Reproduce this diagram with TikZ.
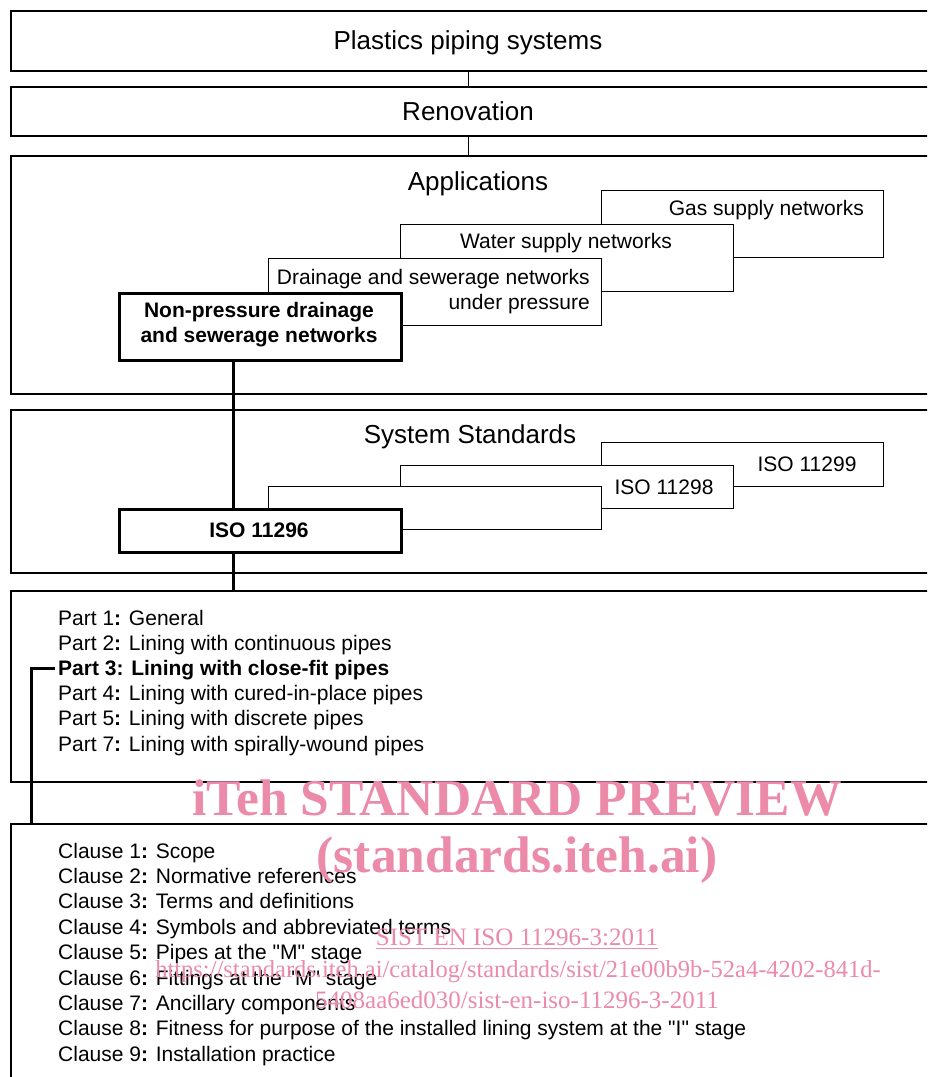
\documentclass[tikz,border=0pt]{standalone}
\usepackage{fontspec}
\setmainfont{Liberation Sans}
\newfontfamily\wmfont{Liberation Serif}
\usetikzlibrary{calc}
\definecolor{wmpink}{RGB}{236,138,170}
\newcommand{\sq}{\textquotedbl}
\begin{document}
\begin{tikzpicture}[x=1pt,y=-1pt,
  bigbox/.style={draw, line width=1.8pt, fill=white, anchor=north west, inner sep=0pt},
  smallbox/.style={draw, line width=0.9pt, fill=white, anchor=north west, inner sep=0pt},
  boldbox/.style={draw, line width=3pt, fill=white, anchor=north west, inner sep=0pt},
  link/.style={line width=0.9pt},
  heavylink/.style={line width=3pt},
  ttl/.style={inner sep=0pt, anchor=base, font=\fontsize{26}{30}\selectfont},
  txt/.style={inner sep=0pt, anchor=base, font=\fontsize{21}{25}\selectfont},
  item/.style={inner sep=0pt, anchor=base west, font=\fontsize{21}{25}\selectfont},
  wmbig/.style={inner sep=0pt, anchor=base, text=wmpink, font=\wmfont\bfseries\fontsize{51.5}{56}\selectfont},
  wmsmall/.style={inner sep=0pt, anchor=base, text=wmpink, font=\wmfont\fontsize{25}{29}\selectfont}
]
\useasboundingbox (0,0) rectangle (927,1077);
\clip (0,0) rectangle (927,1077);

% main boxes
\node[bigbox, minimum width=940pt, minimum height=60pt] (ps) at (10,10) {};
\node[bigbox, minimum width=940pt, minimum height=49pt] (ren) at (10,86) {};
\node[bigbox, minimum width=940pt, minimum height=238pt] (app) at (10,155) {};
\node[bigbox, minimum width=940pt, minimum height=163pt] (ss) at (10,409) {};
\node[bigbox, minimum width=940pt, minimum height=191pt] (parts) at (10,590) {};
\node[bigbox, minimum width=940pt, minimum height=300pt] (cl) at (10,823) {};

% applications
\node[smallbox, minimum width=282pt, minimum height=67pt] (gas) at (601,190) {};
\node[smallbox, minimum width=333pt, minimum height=67pt] (water) at (400,224) {};
\node[smallbox, minimum width=333pt, minimum height=67pt] (drain) at (268,258) {};
\node[boldbox, minimum width=282pt, minimum height=67pt] (np) at (118,292) {};

% system standards
\node[smallbox, minimum width=282pt, minimum height=44pt] (iso99) at (601,442) {};
\node[smallbox, minimum width=333pt, minimum height=43pt] (iso98) at (400,465) {};
\node[smallbox, minimum width=333pt, minimum height=43pt] (blank) at (268,486) {};
\node[boldbox, minimum width=282pt, minimum height=43pt] (iso96) at (118,508) {};

% titles
\node[ttl] (tps) at (468,49) {Plastics piping systems};
\node[ttl] (tren) at (468,120) {Renovation};
\node[ttl] (tapp) at (478,190) {Applications};
\node[ttl] (tss) at (470,443) {System Standards};

% small box texts
\node[txt, anchor=base east] (tgas) at (864,215) {Gas supply networks};
\node[txt] (twater) at (566,248) {Water supply networks};
\node[txt, anchor=base east] (tdrain1) at (590,284) {Drainage and sewerage networks};
\node[txt, anchor=base east] (tdrain2) at (590,309) {under pressure};
\node[txt, font=\bfseries\fontsize{21}{25}\selectfont] (tnp1) at (259,317) {Non-pressure drainage};
\node[txt, font=\bfseries\fontsize{21}{25}\selectfont] (tnp2) at (259,342) {and sewerage networks};
\node[txt] (t99) at (807,471) {ISO 11299};
\node[txt] (t98) at (664,494) {ISO 11298};
\node[txt, font=\bfseries\fontsize{21}{25}\selectfont] (t96) at (259,537.5) {ISO 11296};

% parts
\node[item] (p1) at (58,625) {Part 1\textbf{:} General};
\node[item] (p2) at (58,650.2) {Part 2\textbf{:} Lining with continuous pipes};
\node[item, font=\bfseries\fontsize{21}{25}\selectfont] (p3) at (58,675.4) {Part 3: Lining with close-fit pipes};
\node[item] (p4) at (58,700.6) {Part 4\textbf{:} Lining with cured-in-place pipes};
\node[item] (p5) at (58,725.8) {Part 5\textbf{:} Lining with discrete pipes};
\node[item] (p7) at (58,751) {Part 7\textbf{:} Lining with spirally-wound pipes};

% clauses
\node[item] (c1) at (58,858) {Clause 1\textbf{:} Scope};
\node[item] (c2) at (58,883.4) {Clause 2\textbf{:} Normative references};
\node[item] (c3) at (58,908.8) {Clause 3\textbf{:} Terms and definitions};
\node[item] (c4) at (58,934.2) {Clause 4\textbf{:} Symbols and abbreviated terms};
\node[item] (c5) at (58,959.6) {Clause 5\textbf{:} Pipes at the \sq M\sq\ stage};
\node[item] (c6) at (58,985) {Clause 6\textbf{:} Fittings at the \sq M\sq\ stage};
\node[item] (c7) at (58,1010.4) {Clause 7\textbf{:} Ancillary components};
\node[item] (c8) at (58,1035.8) {Clause 8\textbf{:} Fitness for purpose of the installed lining system at the \sq I\sq\ stage};
\node[item] (c9) at (58,1061.2) {Clause 9\textbf{:} Installation practice};

% connectors
\coordinate (xa) at (468,0);
\coordinate (xb) at (233.5,0);
\coordinate (xc) at (31,0);
\draw[link] (ps.south -| xa) -- (ren.north -| xa);
\draw[link] (ren.south -| xa) -- (app.north -| xa);
\draw[heavylink] (np.south -| xb) -- (iso96.north -| xb);
\draw[heavylink] (iso96.south -| xb) -- (parts.north -| xb);
\draw[heavylink] ([xshift=-3pt,yshift=1.5pt]p3.west) -| (cl.north -| xc);

% watermark
\node[wmbig] (wm1) at (517,815) {iTeh STANDARD PREVIEW};
\node[wmbig] (wm2) at (517,872) {(standards.iteh.ai)};
\node[wmsmall] (wm3) at (517,945) {SIST EN ISO 11296-3:2011};
\draw[wmpink, line width=1pt] ($(wm3.base west)+(0,3)$) -- ($(wm3.base east)+(0,3)$);
\node[wmsmall, font=\wmfont\fontsize{24.5}{29}\selectfont] (wm4) at (518,977) {https://standards.iteh.ai/catalog/standards/sist/21e00b9b-52a4-4202-841d-};
\node[wmsmall] (wm5) at (517,1008) {5408aa6ed030/sist-en-iso-11296-3-2011};
\end{tikzpicture}
\end{document}
